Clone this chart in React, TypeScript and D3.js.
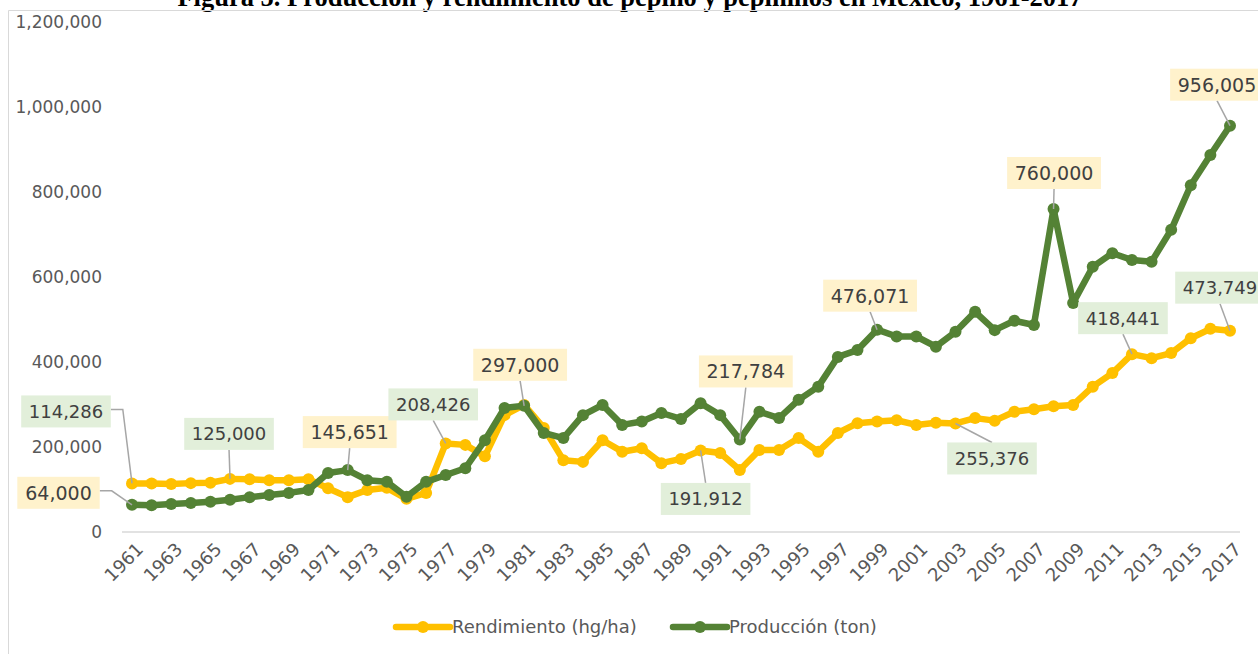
import React from "react";
import * as d3 from "d3";

const TITLE = "Figura 5. Producción y rendimiento de pepino y pepinillos en México, 1961-2017";

const years: number[] = d3.range(1961, 2018);

const rendimiento: number[] = [
  114286, 114000, 113000, 115000, 116000, 125000, 124000, 122000, 122000, 124000,
  103000, 82000, 99000, 104000, 78000, 92000, 208426, 205000, 178000, 275000,
  299000, 245000, 169000, 165000, 216000, 189000, 197000, 162000, 172000, 191912,
  186000, 146000, 193000, 193000, 221000, 189000, 233000, 256000, 260000, 263000,
  252000, 257000, 255376, 268000, 262000, 283000, 289000, 296000, 299000, 342000,
  374000, 418441, 409000, 421000, 456000, 478000, 473749,
];

const produccion: number[] = [
  64000, 63000, 66000, 68000, 71000, 76000, 82000, 87000, 92000, 99000,
  139000, 145651, 122000, 118000, 83000, 118000, 134000, 150000, 216000, 292000,
  297000, 233000, 221000, 275000, 299000, 252000, 260000, 280000, 266000, 303000,
  275000, 217784, 283000, 268000, 311000, 342000, 412000, 428000, 476071, 460000,
  460000, 436000, 471000, 518000, 475000, 497000, 487000, 760000, 539000, 624000,
  656000, 640000, 636000, 711000, 816000, 887000, 956005,
];

const seriesNames = ["Rendimiento (hg/ha)", "Producción (ton)"];
const seriesColors = ["#FFC000", "#548235"];
const labelBg = ["#E2EFDA", "#FFF2CC"];

const yTicks: number[] = [0, 200000, 400000, 600000, 800000, 1000000, 1200000];
const xTickYears: number[] = years.filter((y) => (y - 1961) % 2 === 0);

// annotations: series index, year, box offset (dx, dy) from point, leader type
const annotations = [
  { s: 1, year: 1961, dx: -73.5, dy: -12, kind: "left" },
  { s: 0, year: 1961, dx: -66, dy: -72, kind: "left" },
  { s: 0, year: 1966, dx: -1, dy: -45, kind: "above" },
  { s: 1, year: 1972, dx: 2, dy: -38, kind: "above" },
  { s: 0, year: 1977, dx: -12.5, dy: -39, kind: "above" },
  { s: 1, year: 1981, dx: -4, dy: -41, kind: "above" },
  { s: 0, year: 1990, dx: 5, dy: 48.5, kind: "below" },
  { s: 1, year: 1992, dx: 6, dy: -68, kind: "above" },
  { s: 1, year: 1999, dx: -7, dy: -34, kind: "above" },
  { s: 0, year: 2003, dx: 36.5, dy: 35, kind: "below" },
  { s: 1, year: 2008, dx: 0.5, dy: -36, kind: "above" },
  { s: 1, year: 2017, dx: -13, dy: -41, kind: "above" },
  { s: 0, year: 2012, dx: -9, dy: -36, kind: "above" },
  { s: 0, year: 2017, dx: -10, dy: -43, kind: "above" },
];

const W = 1258;
const H = 654;

export default function App() {
  const x = d3.scalePoint<number>().domain(years).range([132, 1230]);
  const y = d3.scaleLinear().domain([0, 1200000]).range([532, 22]);
  const fmt = d3.format(",");
  const series = [rendimiento, produccion];
  const line = d3
    .line<number>()
    .x((_, i) => x(years[i]) as number)
    .y((d) => y(d));

  const font = "'DejaVu Sans', sans-serif";

  return (
    <div style={{ position: "fixed", left: 0, top: 0, width: W, height: H, background: "#fff" }}>
      <svg width={W} height={H} viewBox={`0 0 ${W} ${H}`} style={{ display: "block" }}>
        <rect x={0} y={0} width={W} height={H} fill="#fff" />
        <text
          x={630}
          y={6}
          textAnchor="middle"
          fontFamily="'Liberation Serif', 'Times New Roman', serif"
          fontWeight="bold"
          fontSize={26.5}
          fill="#000"
        >
          {TITLE}
        </text>
        <path d={`M8.5,${H}V10.5H${W}`} fill="none" stroke="#d9d9d9" strokeWidth={1} />

        {/* y tick labels */}
        {yTicks.map((t) => (
          <text
            key={t}
            x={102}
            y={y(t)}
            dy="0.35em"
            textAnchor="end"
            fontFamily={font}
            fontSize={17}
            fill="#595959"
          >
            {fmt(t)}
          </text>
        ))}

        {/* x axis line */}
        <line x1={122} x2={1240} y1={y(0)} y2={y(0)} stroke="#d9d9d9" strokeWidth={1.5} />

        {/* x tick labels */}
        {xTickYears.map((yr) => (
          <text
            key={yr}
            transform={`translate(${(x(yr) as number) + 8},${546}) rotate(-45)`}
            textAnchor="end"
            dy="0.35em"
            fontFamily={font}
            fontSize={18}
            fill="#595959"
          >
            {yr}
          </text>
        ))}

        {/* series */}
        {series.map((vals, si) => (
          <g key={si}>
            <path d={line(vals) || ""} fill="none" stroke={seriesColors[si]} strokeWidth={6.5} strokeLinejoin="round" strokeLinecap="round" />
            {vals.map((v, i) => (
              <circle key={i} cx={x(years[i]) as number} cy={y(v)} r={6} fill={seriesColors[si]} />
            ))}
          </g>
        ))}

        {/* annotations */}
        {annotations.map((a, k) => {
          const idx = years.indexOf(a.year);
          const v = series[a.s][idx];
          const px = x(a.year) as number;
          const py = y(v);
          const txt = fmt(v);
          const fs = a.s === 1 ? 19 : 18;
          const bw = txt.length * fs * 0.6 + 14;
          const bh = 32;
          const cx = px + a.dx;
          const cy = py + a.dy;
          let d = "";
          if (a.kind === "left") {
            const ex = cx + bw / 2;
            d = `M${ex},${cy - 2}L${ex + 12},${cy - 2}L${px},${py}`;
          } else if (a.kind === "above") {
            d = `M${cx},${cy + bh / 2}L${px},${py}`;
          } else {
            d = `M${cx},${cy - bh / 2}L${px},${py}`;
          }
          return (
            <g key={k}>
              <path d={d} fill="none" stroke="#a6a6a6" strokeWidth={1.5} />
              <rect x={cx - bw / 2} y={cy - bh / 2} width={bw} height={bh} fill={labelBg[a.s === 1 ? 1 : 0]} />
              <text x={cx} y={cy} dy="0.36em" textAnchor="middle" fontFamily={font} fontSize={fs} fill="#404040">
                {txt}
              </text>
            </g>
          );
        })}

        {/* legend */}
        {seriesNames.map((name, i) => {
          const lx = i === 0 ? 396 : 673;
          const ly = 627;
          return (
            <g key={name}>
              <line x1={lx} x2={lx + 54} y1={ly} y2={ly} stroke={seriesColors[i]} strokeWidth={6.5} strokeLinecap="round" />
              <circle cx={lx + 27} cy={ly} r={6} fill={seriesColors[i]} />
              <text x={lx + 56} y={ly} dy="0.35em" fontFamily={font} fontSize={18} fill="#595959">
                {name}
              </text>
            </g>
          );
        })}
      </svg>
    </div>
  );
}
